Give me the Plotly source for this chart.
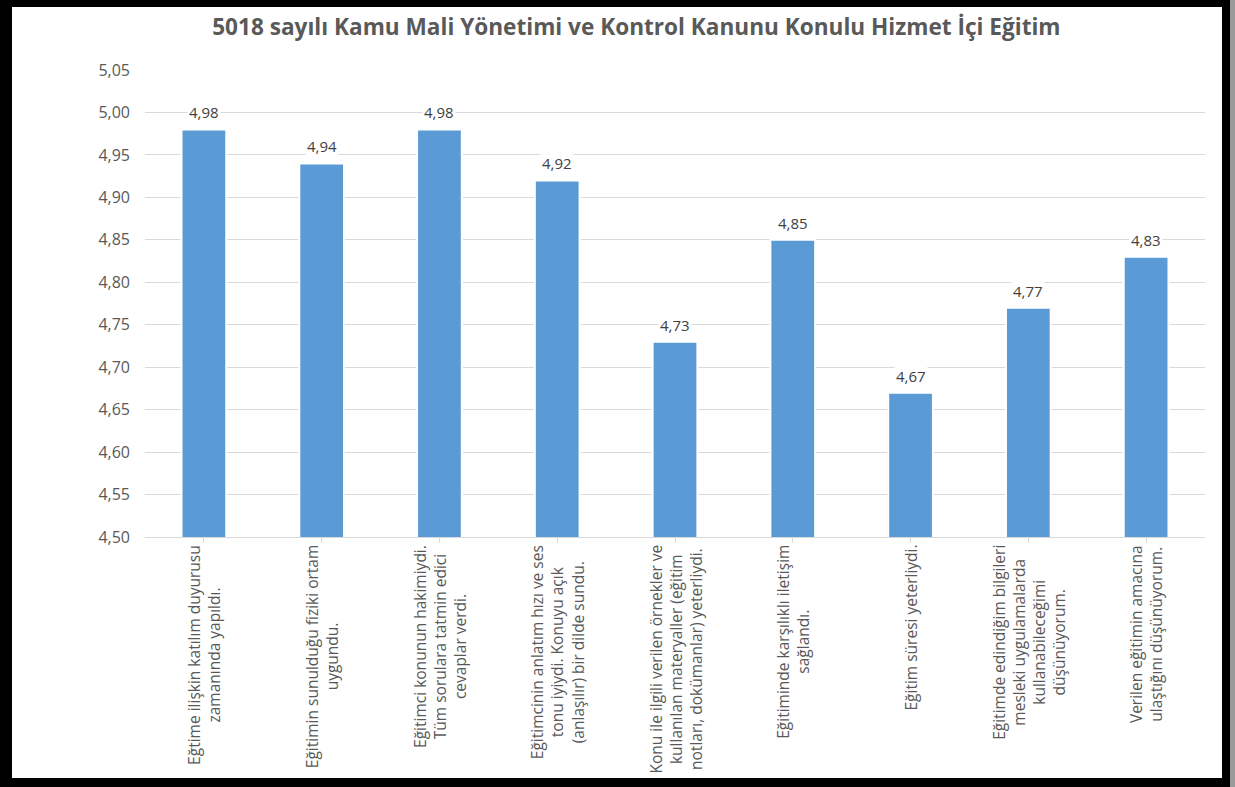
import plotly.graph_objects as go

TITLE = "5018 sayılı Kamu Mali Yönetimi ve Kontrol Kanunu Konulu Hizmet İçi Eğitim"

categories = [
    "Eğtime ilişkin katılım duyurusu<br>zamanında yapıldı.",
    "Eğitimin sunulduğu fiziki ortam<br>uygundu.",
    "Eğitimci konunun hakimiydi.<br>Tüm sorulara tatmin edici<br>cevaplar verdi.",
    "Eğitimcinin anlatım hızı ve ses<br>tonu iyiydi. Konuyu açık<br>(anlaşılır) bir dilde sundu.",
    "Konu ile ilgili verilen örnekler ve<br>kullanılan materyaller (eğitim<br>notları, dokümanlar) yeterliydi.",
    "Eğitiminde karşılıklı iletişim<br>sağlandı.",
    "Eğitim süresi yeterliydi.",
    "Eğitimde edindiğim bilgileri<br>mesleki uygulamalarda<br>kullanabileceğimi<br>düşünüyorum.",
    "Verilen eğitimin amacına<br>ulaştığını düşünüyorum.",
]
values = [4.98, 4.94, 4.98, 4.92, 4.73, 4.85, 4.67, 4.77, 4.83]

# the chart sits inside a black picture frame (drawn by the page, see post_script)
W, H = 1210, 771
L, R, T, B = 133, 17, 63, 241
FONT = "Open Sans, Lato, sans-serif"
GREY = "#595959"

x = list(range(len(categories)))

fig = go.Figure(go.Bar(
    x=x, y=values, width=0.38,
    marker=dict(color="#5B9BD5", line=dict(color="white", width=2)),
    hoverinfo="skip",
))

# value labels with white box (breaks the gridlines like the original)
for xi, v in zip(x, values):
    fig.add_annotation(x=xi, y=v, text=f"{v:.2f}".replace(".", ","), showarrow=False,
                       yanchor="bottom", yshift=5, bgcolor="white",
                       font=dict(size=15, color="#404040", family=FONT))

# rotated category labels, centered lines
for xi, c in zip(x, categories):
    fig.add_annotation(x=xi, y=0, yref="paper", text=c, showarrow=False,
                       textangle=-90, yanchor="top", xanchor="center", align="center",
                       yshift=-6, font=dict(size=15.5, color=GREY, family=FONT))

fig.update_layout(
    width=W, height=H,
    margin=dict(l=L, r=R, t=T, b=B),
    paper_bgcolor="white", plot_bgcolor="white",
    separators=",.",
    font=dict(family=FONT, color=GREY),
    showlegend=False,
    title=dict(text=f"<b>{TITLE}</b>", x=0.516, xref="container", xanchor="center",
               y=1 - 20 / H, yanchor="middle",
               font=dict(size=22.6, color=GREY, family=FONT)),
)
fig.update_xaxes(
    range=[-0.5, len(categories) - 0.5], showticklabels=False,
    showline=True, linecolor="#D9D9D9", linewidth=1,
    ticks="outside", tickson="boundaries", ticklen=5, tickcolor="#D9D9D9",
    tickvals=x, showgrid=False, zeroline=False, fixedrange=True,
)
fig.update_yaxes(
    range=[4.5, 5.05], dtick=0.05, tick0=4.5, tickformat=".2f",
    showgrid=True, gridcolor="#D9D9D9", gridwidth=1, zeroline=False,
    showline=False, ticks="", ticklabelstandoff=14,
    tickfont=dict(size=16, color=GREY, family=FONT), fixedrange=True,
)

frame_js = (
    "var bg='linear-gradient(to right, #000 1230px, #9a9a9a 1230px)';"
    "document.documentElement.style.background=bg;"
    "document.body.style.background=bg;"
    "document.body.style.margin='0';"
    "document.body.style.padding='7px 0 0 12px';"
    "document.body.style.overflow='hidden';"
)
fig.write_html("out.html", config={"displayModeBar": False}, post_script=frame_js)
